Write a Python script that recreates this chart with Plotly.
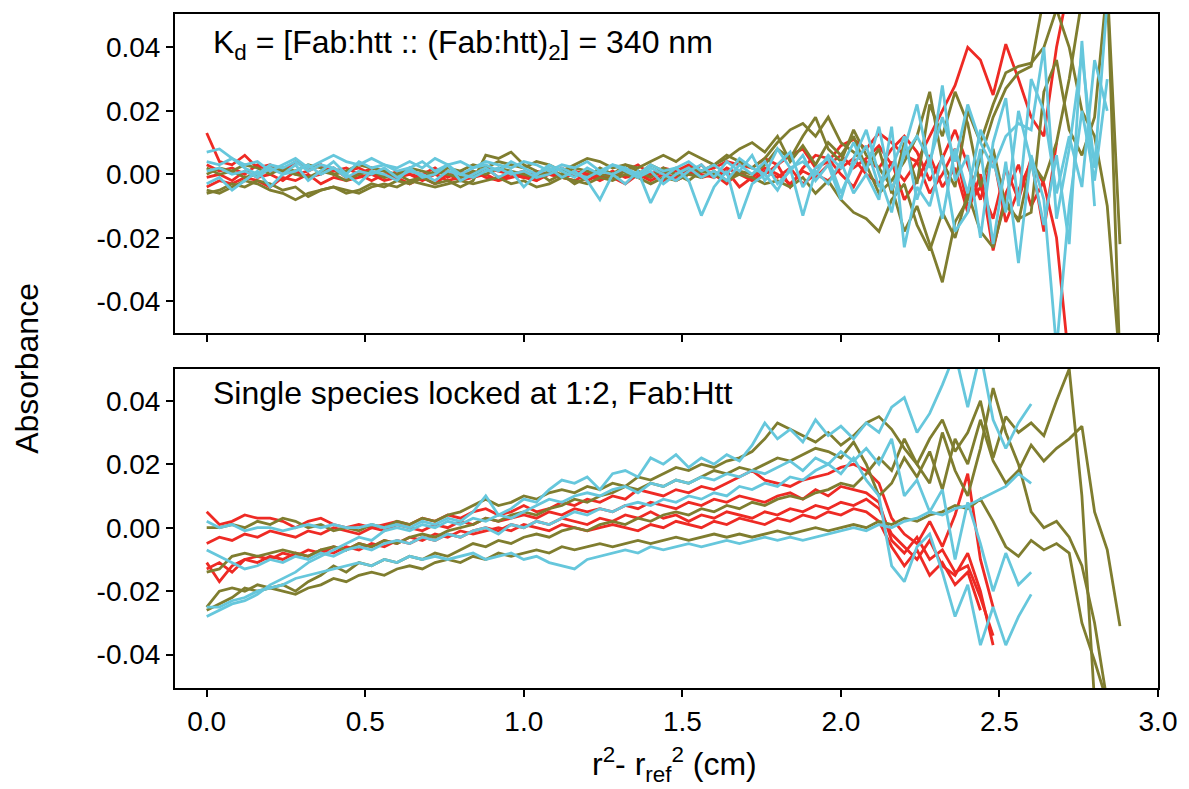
import numpy as np
import plotly.graph_objects as go

# grid spacing of the radial data points (cm^2), values in milli-absorbance units
STEP = 0.04

# ---------------- top panel: Kd model residuals ----------------
top_red = [
    [13, 4, 3, 6, 2, 3, 1, 4, 2, 3, 1, 2, 0, 2, 1, -1, 1, 0, 2, -1, 1, 0, 2, -1, 0, 1, -1, 0, 2, 0, 1, -1, 0, 1, 3, 0, 2, 1, 3, 1, 2, 4, 3, 2, 5, 3, 6, 8, 2, 4, 9, 11, 8, 13, 10, 6, 4, 12, 20, 28, 40, 36, 25, 41, 30, 18, 12, 40, 60],
    [3, 1, 2, 0, 3, 1, 2, 0, 1, 3, 0, 1, 2, 0, -1, 1, 0, -2, 0, 1, -1, 0, 2, 1, 0, -1, 1, 0, -1, 1, 0, -2, 0, 1, -1, 0, -2, 0, 1, -1, 0, -3, 1, -2, 0, 3, -4, 2, 6, 5, 0, -4, 4, 2, 8, 12, 7, -2, 5, 14, 3, -8, 6, -15, -5, 4, -3, -20, -60],
    [-1, 0, -2, 1, -1, 0, -2, 1, -1, 0, 2, -1, 0, -2, 0, -1, -3, -1, 0, -2, -1, 1, -1, -2, 0, -1, -2, 0, -1, -2, 0, -1, 1, -1, 0, -2, 0, -1, 2, 0, -1, 1, -4, -1, 2, 0, -3, 1, -1, 3, 6, 2, 5, 9, 3, -2, 4, -6, 0, 8, -10, -4, -14, 2, -8, 5, -18, 10],
    [-4, -2, -3, -1, -2, -4, -1, -2, 0, -3, -1, -2, -1, 0, -2, -1, 0, -1, -3, 0, -2, -1, 0, -2, -1, 0, -2, 1, -1, 0, -2, 0, -1, -3, 0, -1, 1, -2, 0, 3, -1, 2, 0, -2, 1, -1, 2, -3, 0, -2, 2, 5, 0, -3, 4, -8, -2, 6, -4, 2, -12, 0, -24, -6, 3, -10, -2],
]
top_olive = [
    [-6, -5, -3, -4, -2, -3, -5, -4, -7, -5, -4, -6, -5, -3, -4, -2, -3, -1, -3, -2, -4, -2, 6, 5, 7, 3, 1, -2, 0, -3, -1, 2, 0, 3, 1, -1, 2, 0, -2, 1, 0, -2, 1, 0, 3, 8, 5, 12, 18, 8, 4, 14, 6, 2, -4, -18, -10, -22, -34, -15, -8, 5, 18, 27, 32, 34, 56, 70, 70, 70, 70, 60, -60],
    [2, 0, 1, -1, 0, 2, 1, 0, -1, 1, 0, -2, 0, 1, -1, 0, -2, -1, 1, 0, -1, 1, 0, 2, 1, 0, -1, 1, 0, 2, 1, 0, -1, 1, 0, 3, 1, 0, 2, 1, 3, 5, 8, 10, 7, 12, 4, 9, 3, 10, 6, 12, 2, 8, -6, 10, -3, 22, 12, 26, 16, -4, 8, -10, -14, -12, 26, 36, 14, 6, 18, 60, -22],
    [-5, -6, -4, -2, -3, -5, -6, -8, -6, -5, -4, -5, -6, -4, -3, -4, -2, -3, -4, -3, -2, -3, -2, -1, -3, -2, -4, -3, -1, -2, -3, -1, -2, 0, -1, -3, -1, -2, 0, -1, 1, -2, 0, -1, -3, -2, -4, -1, -6, -2, -8, -12, -14, -18, -8, -3, -16, -24, -12, -20, -6, -18, -23, -8, -15, 4, -2, 10, 30, 55],
    [0, 2, 1, 3, 2, 0, 2, 1, 3, 2, 0, 1, 3, 2, 1, 0, 2, 1, 0, 2, 1, 3, 2, 4, 3, 2, 4, 3, 1, 3, 5, 4, 2, 3, 2, 4, 6, 4, 7, 5, 3, 6, 4, 2, 5, 10, 14, 16, 12, 18, 10, 7, 3, -6, -2, 4, 12, 26, 4, -4, 20, 10, 22, 32, 34, 35, 40, 52, 40, 20, 12, -10, -60],
]
top_cyan = [
    [7, 8, 5, 3, 4, 1, 3, 5, 2, 4, 6, 4, 3, 5, 3, 2, 4, 2, 5, 3, 4, 2, 4, 3, 2, 4, 3, 1, 3, 2, 4, 1, 3, 2, 0, 3, 1, 2, 4, 1, 3, 0, 5, 2, 0, 8, 2, 4, 0, 6, 2, 10, 1, 15, -5, 6, 12, 4, 18, 4, 22, 10, 2, 12, 16, 14, 40, -14, 8, 38, 2, 55],
    [-3, -1, -5, -2, 1, -4, 0, 3, -2, 1, 4, 0, -3, 1, 0, -2, 2, -1, 0, 3, -2, 0, 2, -1, 1, -4, 0, 2, -1, 1, -2, -8, 0, -3, 1, -9, -1, 2, -2, -13, -4, 1, -14, -3, 0, -5, 2, -13, 1, -3, 4, -6, 0, -8, 15, -23, -4, -10, 6, -18, -12, 8, -22, 4, -28, 6, -8, -55, -10, 20, -2, 30],
    [4, 3, 5, 2, 0, 3, 2, 4, 1, 3, 2, 0, 4, 2, 3, 1, 2, 4, 1, 3, 0, 2, 3, 1, 4, 2, 0, 3, 1, -1, 2, 0, 3, 1, -1, 2, 0, -2, 1, 3, -1, 4, 1, 6, -2, 3, 7, -4, 2, 5, -6, 3, 9, -4, 2, 12, -8, 5, -14, 8, -6, 14, 5, -12, 20, 4, -16, 6, -22, 42, -10],
    [1, 2, 0, 1, -1, 2, 0, 1, 3, 0, 2, -1, 1, 0, 2, -1, 1, 0, -2, 1, 0, -1, 1, 2, 0, 1, -1, 0, 2, 0, -1, 1, 0, 2, -1, 1, -3, 0, 2, -1, 1, -2, 3, 0, 4, -3, 1, 6, -2, 3, -8, 5, 14, 0, -12, 8, 22, 2, 28, -2, 6, -20, 10, 24, -10, 30, 20, -6, 12, -4, 36, 20],
]

# ---------------- bottom panel: single species locked at 1:2 ----------------
bot_red = [
    [5, 1, 2, 4, 3, 3, 2, 0, 2, 3, 1, 0, 1, 0, 1, 2, 1, 3, 2, 4, 3, 5, 6, 4, 5, 7, 5, 6, 8, 7, 9, 8, 10, 9, 12, 11, 10, 12, 11, 13, 12, 14, 16, 18, 15, 14, 13, 15, 16, 17, 19, 20, 18, 14, 3, -2, -5, 2, -6, 4, 17, -10, -25],
    [-5, -3, -4, -2, -3, -1, -2, -3, -1, -2, 0, -1, -2, 0, -1, 1, 0, -1, 1, 0, 2, 1, 3, 2, 3, 4, 3, 5, 4, 6, 5, 6, 5, 7, 6, 8, 7, 6, 8, 7, 9, 8, 10, 9, 8, 10, 11, 9, 12, 10, 13, 12, 11, 8, -4, -8, -3, -10, -7, -14, -12, -22, -34],
    [-11, -17, -12, -10, -11, -9, -10, -8, -9, -7, -8, -6, -7, -5, -6, -4, -5, -3, -4, -2, -3, -1, 0, -1, 1, 0, 2, 1, 3, 2, 1, 3, 2, 4, 3, 5, 3, 4, 2, 4, 3, 5, 4, 3, 5, 4, 6, 5, 7, 6, 8, 7, 9, 6, -2, -6, -10, -4, -12, -15, -8, -20, -37],
    [-13, -11, -14, -10, -9, -10, -8, -9, -7, -8, -6, -7, -5, -6, -4, -5, -3, -4, -2, -3, -1, -2, -1, 0, -1, 1, 0, -1, 1, 0, -1, 0, 1, 0, -1, 1, 0, 2, 1, 0, 2, 1, 3, 2, 1, 3, 2, 4, 3, 5, 4, 6, 5, 2, -6, -12, -7, -15, -11, -18, -14, -26],
]
bot_olive = [
    [0, 0, 1, 0, 2, 1, 3, 2, 0, 1, -1, 0, -1, 1, 0, 2, 1, 3, 2, 4, 5, 7, 9, 7, 8, 10, 9, 11, 12, 11, 13, 12, 14, 13, 16, 15, 17, 19, 18, 20, 19, 21, 22, 24, 28, 33, 31, 29, 27, 30, 26, 29, 33, 35, 31, 25, 20, 28, 34, 24, 30, 40, 22, 35, 30, 33, 29, 40, 50, 10, -55],
    [-14, -13, -9, -8, -9, -8, -7, -8, -9, -7, -6, -7, -5, -6, -4, -5, -3, -2, -3, -1, 0, 1, 3, 2, 4, 5, 4, 6, 7, 9, 8, 10, 11, 13, 12, 14, 13, 15, 14, 16, 18, 17, 19, 18, 20, 22, 21, 23, 25, 24, 22, 27, 20, 10, 14, 22, 16, 24, 12, 28, 20, 34, 21, 14, 18, 26, 21, 25, 28, 32, 5, -7, -31],
    [-25, -20, -19, -20, -18, -19, -20, -21, -19, -18, -16, -17, -15, -14, -15, -13, -12, -13, -11, -10, -11, -9, -10, -8, -9, -8, -7, -8, -6, -7, -6, -5, -6, -5, -4, -5, -4, -3, -4, -3, -2, -3, -2, -3, -2, -1, -2, -1, 0, -1, 0, 1, 0, 2, 1, 3, 2, 4, 5, 7, 6, 9, 2, -6, -9, -4, -7, -5, -8, -30, -42, -55],
    [-26, -24, -22, -19, -20, -19, -18, -20, -17, -15, -12, -14, -11, -12, -10, -11, -9, -10, -8, -9, -7, -5, -6, -4, -5, -3, -2, -3, -1, 0, -1, 1, 2, 1, 3, 2, 4, 5, 4, 6, 5, 7, 6, 8, 7, 9, 10, 9, 11, 12, 14, 13, 17, 22, 18, 28, 20, 14, 30, 18, 10, 25, 44, 30, 20, 5, 0, 2, -3, -12, -30, -55],
]
bot_cyan = [
    [2, 0, 1, -1, 0, 0, -1, 0, 1, 0, 1, 0, 0, 1, 0, 1, 0, 2, 1, 3, 2, 5, 10, 4, 6, 9, 8, 12, 15, 14, 16, 12, 17, 18, 16, 22, 20, 23, 19, 22, 20, 23, 21, 26, 33, 28, 31, 27, 34, 29, 32, 28, 33, 30, 38, 41, 30, 36, 45, 55, 38, 55, 34, 25, 33, 39],
    [-7, -9, -11, -13, -12, -10, -11, -9, -10, -8, -9, -7, -6, -7, -5, -4, -5, -3, -4, -2, -3, -1, 0, -2, 1, 0, 2, 1, 3, 5, 4, 6, 5, 7, 8, 7, 9, 8, 10, 9, 11, 10, 13, 12, 14, 13, 16, 15, 18, 20, 17, 22, 15, 10, -12, -17, -6, -2, -14, -28, -18, -37, -25, -37, -28, -21],
    [-25, -25, -23, -22, -20, -19, -18, -16, -15, -14, -13, -12, -11, -12, -10, -11, -9, -10, -9, -10, -9, -8, -10, -9, -8, -10, -9, -11, -12, -13, -10, -9, -8, -7, -8, -6, -7, -6, -5, -6, -5, -4, -5, -4, -3, -4, -3, -4, -3, -2, -1, 0, -1, 1, 0, 2, 3, 5, 4, 6, 7, 9, 11, 13, 17, 14],
    [-28, -26, -24, -23, -21, -18, -16, -14, -11, -9, -7, -5, -3, -4, -1, 0, -1, 1, 0, 2, 1, 3, 2, 4, 3, 5, 7, 9, 8, 10, 11, 10, 12, 13, 11, 14, 13, 15, 14, 16, 15, 17, 16, 18, 17, 19, 21, 18, 22, 20, 24, 21, 25, 20, 28, 10, 15, 5, 12, -10, 8, -5, -20, -8, -18, -14],
]

TOP_LABEL = "K<sub>d</sub> = [Fab:htt :: (Fab:htt)<sub>2</sub>] = 340 nm"
BOT_LABEL = "Single species locked at 1:2, Fab:Htt"
X_TITLE = "r<sup>2</sup>- r<sub>ref</sub><sup>2</sup> (cm)"
Y_TITLE = "Absorbance"
Y_TICKS = [-0.04, -0.02, 0.00, 0.02, 0.04]
Y_TICK_TEXT = ["-0.04", "-0.02", "0.00", "0.02", "0.04"]
X_TICKS = [0.0, 0.5, 1.0, 1.5, 2.0, 2.5, 3.0]
X_TICK_TEXT = ["0.0", "0.5", "1.0", "1.5", "2.0", "2.5", "3.0"]

RED = "#ee2a24"
OLIVE = "#7f7d2f"
CYAN = "#66c7dc"
FONT = "Liberation Sans, Arial, Helvetica, sans-serif"

fig = go.Figure()


def add_group(groups, xaxis, yaxis):
    for series_list, color in groups:
        for ys in series_list:
            y = np.array(ys, dtype=float) / 1000.0
            x = np.arange(len(y)) * STEP
            fig.add_trace(go.Scatter(x=x, y=y, mode="lines", xaxis=xaxis, yaxis=yaxis,
                                     line=dict(color=color, width=2.8), showlegend=False,
                                     hoverinfo="skip"))


add_group([(top_red, RED), (top_olive, OLIVE), (top_cyan, CYAN)], "x", "y")
add_group([(bot_red, RED), (bot_olive, OLIVE), (bot_cyan, CYAN)], "x2", "y2")

axis_common = dict(showline=True, linecolor="black", linewidth=2, mirror=True,
                   ticks="outside", ticklen=7, tickwidth=2, tickcolor="black",
                   showgrid=False, zeroline=False,
                   tickfont=dict(family=FONT, size=28, color="black"))

X_RANGE = [-0.1, 3.0]

fig.update_layout(
    width=1189, height=789, autosize=False,
    margin=dict(l=175, r=25, t=14, b=101),
    paper_bgcolor="white", plot_bgcolor="white",
    font=dict(family=FONT, color="black"),
    xaxis=dict(domain=[0, 1], anchor="y", range=X_RANGE, tickvals=X_TICKS,
               showticklabels=False, **axis_common),
    yaxis=dict(domain=[0.5267, 1], anchor="x", range=[-0.05, 0.0505], tickvals=Y_TICKS,
               ticktext=Y_TICK_TEXT, **axis_common),
    xaxis2=dict(domain=[0, 1], anchor="y2", range=X_RANGE, tickvals=X_TICKS,
                ticktext=X_TICK_TEXT, **axis_common),
    yaxis2=dict(domain=[0, 0.4733], anchor="x2", range=[-0.0505, 0.05], tickvals=Y_TICKS,
                ticktext=Y_TICK_TEXT, **axis_common),
)

fig.add_annotation(text=TOP_LABEL, xref="x domain", yref="y domain", x=0.037, y=0.905,
                   xanchor="left", yanchor="middle", showarrow=False,
                   font=dict(family=FONT, size=32, color="black"))
fig.add_annotation(text=BOT_LABEL, xref="x2 domain", yref="y2 domain", x=0.037, y=0.925,
                   xanchor="left", yanchor="middle", showarrow=False,
                   font=dict(family=FONT, size=32, color="black"))
fig.add_annotation(text=Y_TITLE, xref="paper", yref="paper", x=-0.1507, y=0.4748,
                   xanchor="center", yanchor="middle", textangle=-90, showarrow=False,
                   font=dict(family=FONT, size=32, color="black"))
fig.add_annotation(text=X_TITLE, xref="paper", yref="paper", x=0.508, y=-0.114,
                   xanchor="center", yanchor="middle", showarrow=False,
                   font=dict(family=FONT, size=32, color="black"))

fig.write_html("out.html",
               config={"displayModeBar": False, "responsive": False},
               post_script="document.body.style.margin='0';"
                           "document.body.style.overflow='hidden';"
                           "document.documentElement.style.overflow='hidden';")
